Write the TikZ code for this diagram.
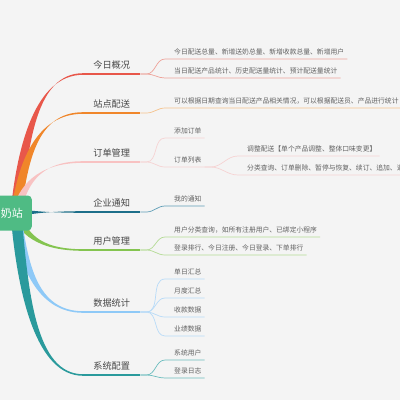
\documentclass[tikz,border=0pt]{standalone}
\usepackage{fontspec}
\newfontfamily\cjk{Noto Sans CJK SC}
\usetikzlibrary{calc,backgrounds}
\definecolor{paper}{HTML}{F4F4F4}
\definecolor{rootgreen}{HTML}{4FBB84}
\definecolor{cRed}{HTML}{E8574A}
\definecolor{cOrange}{HTML}{F0862A}
\definecolor{cPink}{HTML}{F8C2C2}
\definecolor{cNavy}{HTML}{1D6F8A}
\definecolor{cGreen}{HTML}{84C450}
\definecolor{cSky}{HTML}{8EC9F7}
\definecolor{cTeal}{HTML}{2A9A9C}
\definecolor{tRed}{HTML}{EEA39A}
\definecolor{tOrange}{HTML}{F5C28C}
\definecolor{tPink}{HTML}{F6D3D3}
\definecolor{tNavy}{HTML}{5E9DB6}
\definecolor{tGreen}{HTML}{B4DB95}
\definecolor{tSky}{HTML}{B8DBF8}
\definecolor{tTeal}{HTML}{6CBDBE}
% tapered branch from the root to a topic
\newcommand{\limb}[4]{%
  \fill[#1] let \p1=($(zhan.east)+(-16,0)$), \p2=(#2.south west) in
    ({\x1+#3},{\y1-#4}) .. controls ({\x1+0.1*(\x2-\x1)+#3},{\y1+0.5*(\y2-\y1)-#4}) and ({\x1+0.3*(\x2-\x1)},{\y2+0.8pt}) .. ({\x2},{\y2+0.8pt})
    -- ({\x2},{\y2-0.8pt}) .. controls ({\x1+0.3*(\x2-\x1)},{\y2-0.8pt}) and ({\x1+0.1*(\x2-\x1)-#3},{\y1+0.5*(\y2-\y1)+#4}) .. ({\x1-#3},{\y1+#4}) -- cycle;}

\begin{document}
\begin{tikzpicture}[x=1pt,y=-1pt,
  root/.style={fill=rootgreen,rounded corners=4pt,text=white,font=\cjk\fontsize{11}{13}\selectfont,text width=40pt,align=right,inner xsep=9pt,minimum height=35pt},
  topic/.style={anchor=south west,minimum width=57pt,inner xsep=0pt,inner ysep=5pt,font=\cjk\fontsize{9.2}{11}\selectfont,text=black!72},
  sub/.style={anchor=south west,inner xsep=3pt,inner ysep=3.8pt,font=\cjk\fontsize{6.8}{8}\selectfont,text=black!62,execute at begin node={\hspace*{6pt}}},
  twig/.style={line width=0.7pt}]
\useasboundingbox (0,0) rectangle (400,400);
% root
\node[root,anchor=east] (zhan) at (32,213) {奶站};
% topics
\node[topic] (gaikuang) at (83,74) {今日概况};
\node[topic] (peisong) at (83,113) {站点配送};
\node[topic] (dingdan) at (83,162) {订单管理};
\node[topic] (tongzhi) at (83,212) {企业通知};
\node[topic] (yonghu) at (83,250) {用户管理};
\node[topic] (shuju) at (83,312) {数据统计};
\node[topic] (xitong) at (83,375) {系统配置};
% leaves
\node[sub] (g1) at (165,59) {今日配送总量、新增送奶总量、新增收款总量、新增用户};
\node[sub] (g2) at (165,78) {当日配送产品统计、历史配送量统计、预计配送量统计};
\node[sub] (p1) at (165,108) {可以根据日期查询当日配送产品相关情况，可以根据配送员、产品进行统计};
\node[sub] (d1) at (165,138) {添加订单};
\node[sub] (d2) at (165,167) {订单列表};
\node[sub] (d21) at (238,156) {调整配送【单个产品调整、整体口味变更】};
\node[sub] (d22) at (238,175) {分类查询、订单删除、暂停与恢复、续订、追加、退订};
\node[sub] (t1) at (165,206) {我的通知};
\node[sub] (y1) at (165,237) {用户分类查询，如所有注册用户、已绑定小程序};
\node[sub] (y2) at (165,255) {登录排行、今日注册、今日登录、下单排行};
\node[sub] (s1) at (165,279) {单日汇总};
\node[sub] (s2) at (165,298) {月度汇总};
\node[sub] (s3) at (165,317) {收款数据};
\node[sub] (s4) at (165,336) {业绩数据};
\node[sub] (x1) at (165,360) {系统用户};
\node[sub] (x2) at (165,378) {登录日志};
\begin{scope}[on background layer]
\fill[paper] (0,0) rectangle (400,400);
% branches
\foreach \tp/\cl/\ox/\oy in {gaikuang/cRed/5.5pt/0pt,peisong/cOrange/5pt/0.5pt,dingdan/cPink/4pt/1pt,
    tongzhi/cNavy/0pt/3.5pt,yonghu/cGreen/4pt/-1.2pt,shuju/cSky/5pt/-0.5pt,xitong/cTeal/5.5pt/0pt}{
  \limb{\cl}{\tp}{\ox}{\oy}
  \draw[\cl,line width=1.3pt] (\tp.south west) -- (\tp.south east);
}
% twigs
\foreach \a/\b/\cl in {gaikuang/g1/tRed,gaikuang/g2/tRed,peisong/p1/tOrange,dingdan/d1/tPink,dingdan/d2/tPink,
    d2/d21/tPink,d2/d22/tPink,tongzhi/t1/tNavy,yonghu/y1/tGreen,yonghu/y2/tGreen,
    shuju/s1/tSky,shuju/s2/tSky,shuju/s3/tSky,shuju/s4/tSky,xitong/x1/tTeal,xitong/x2/tTeal}
  \draw[twig,\cl] (\a.south east) -- ++(6,0) to[out=0,in=180] (\b.south west) -- (\b.south east);
\end{scope}
\end{tikzpicture}
\end{document}
